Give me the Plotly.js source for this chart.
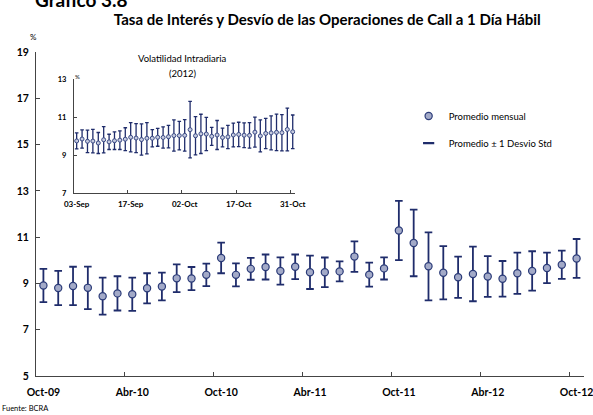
<!DOCTYPE html>
<html>
<head>
<meta charset="utf-8">
<script src="https://cdn.plot.ly/plotly-3.0.1.min.js"></script>
<style>html,body{margin:0;padding:0;background:#fff}</style>
</head>
<body>
<div id="chart" style="width:593px;height:415px"></div>
<script>
// Main chart: monthly average call rate (%) and standard deviation
var months = ["Oct-09","Nov-09","Dic-09","Ene-10","Feb-10","Mar-10","Abr-10","May-10","Jun-10","Jul-10","Ago-10","Sep-10",
  "Oct-10","Nov-10","Dic-10","Ene-11","Feb-11","Mar-11","Abr-11","May-11","Jun-11","Jul-11","Ago-11","Sep-11",
  "Oct-11","Nov-11","Dic-11","Ene-12","Feb-12","Mar-12","Abr-12","May-12","Jun-12","Jul-12","Ago-12","Sep-12","Oct-12"];
var monthlyMean = [8.91,8.80,8.89,8.81,8.45,8.57,8.53,8.79,8.87,9.22,9.21,9.37,
  10.10,9.37,9.63,9.71,9.54,9.72,9.48,9.48,9.52,10.16,9.38,9.65,
  11.29,10.75,9.74,9.46,9.27,9.41,9.30,9.20,9.44,9.54,9.67,9.81,10.08];
var monthlyStd = [0.72,0.74,0.83,0.92,0.80,0.74,0.72,0.65,0.60,0.60,0.50,0.49,
  0.66,0.50,0.47,0.54,0.59,0.53,0.72,0.64,0.43,0.66,0.52,0.48,
  1.28,1.44,1.47,1.15,0.89,1.18,0.88,0.77,0.89,0.85,0.66,0.61,0.84];

// Inset: daily intraday volatility (2012)
var days = ["03-Sep","04-Sep","05-Sep","06-Sep","07-Sep","10-Sep","11-Sep","12-Sep","13-Sep","14-Sep",
  "17-Sep","18-Sep","19-Sep","20-Sep","21-Sep","25-Sep","26-Sep","27-Sep","28-Sep","01-Oct",
  "02-Oct","03-Oct","04-Oct","05-Oct","09-Oct","10-Oct","11-Oct","12-Oct","15-Oct","16-Oct",
  "17-Oct","18-Oct","19-Oct","22-Oct","23-Oct","24-Oct","25-Oct","26-Oct","29-Oct","30-Oct","31-Oct"];
var dailyMean = [9.75,9.85,9.73,9.74,9.64,9.81,9.70,9.76,9.79,9.84,
  9.94,9.90,9.82,9.89,9.89,9.94,9.93,9.97,10.03,10.03,
  10.04,10.34,10.02,10.12,10.11,9.99,10.06,9.93,9.96,10.06,
  10.09,10.05,10.04,10.21,10.01,10.14,10.17,10.20,10.18,10.35,10.23];
var dailyStd = [0.42,0.48,0.59,0.62,0.55,0.69,0.40,0.46,0.49,0.60,
  0.77,0.76,0.82,0.82,0.45,0.47,0.56,0.59,0.82,0.75,
  0.83,1.48,1.00,1.03,0.87,0.47,0.76,0.49,0.61,0.62,
  0.64,0.65,0.67,0.79,0.84,0.79,0.89,0.96,0.95,1.12,0.88];

var mainYTicks = [5,7,9,11,13,15,17,19];
var insetYTicks = [7,9,11,13];

var NAVY = "#1f2c6b";
var FILL = "#a3aac8";
var FONT = "Lato, 'Open Sans', sans-serif";

var traces = [
  {
    x: months, y: monthlyMean, type: "scatter", mode: "markers",
    name: "Promedio mensual", legendgroup: "a",
    marker: {size: 7.2, color: FILL, line: {color: "#2b3b78", width: 1.2}},
    error_y: {type: "data", array: monthlyStd, visible: true, color: NAVY, thickness: 1.8, width: 3.8},
    xaxis: "x", yaxis: "y"
  },
  {
    x: [null], y: [null], type: "scatter", mode: "markers",
    name: "Promedio \u00B1 1 Desvio Std", legendgroup: "b",
    marker: {symbol: "line-ew", size: 8, color: NAVY, line: {color: NAVY, width: 2.2}},
    xaxis: "x", yaxis: "y"
  },
  {
    x: days, y: dailyMean, type: "scatter", mode: "markers", showlegend: false,
    marker: {size: 4, color: "#c5cadf", line: {color: "#3a4a85", width: 1}},
    error_y: {type: "data", array: dailyStd, visible: true, color: NAVY, thickness: 1.3, width: 1.8},
    xaxis: "x2", yaxis: "y2"
  }
];

var axisCommon = {
  showgrid: false, zeroline: false, showline: true, linecolor: "#444", linewidth: 1,
  ticks: "inside", tickcolor: "#444", tickwidth: 1, fixedrange: true
};

var layout = {
  width: 593, height: 415,
  margin: {l: 36, r: 9, t: 52, b: 39},
  paper_bgcolor: "#fff", plot_bgcolor: "rgba(0,0,0,0)",
  font: {family: FONT, color: "#000"},
  title: {
    text: "Tasa de Inter\u00E9s y Desv\u00EDo de las Operaciones de Call a 1 D\u00EDa H\u00E1bil",
    font: {family: FONT, size: 15, weight: 700, color: "#000"},
    x: 0.552, xanchor: "center", y: 0.952, yanchor: "middle", yref: "container", xref: "container"
  },
  xaxis: Object.assign({}, axisCommon, {
    type: "category", range: [-0.5, 36.5], tickmode: "linear", tick0: 0, dtick: 6,
    tickson: "boundaries", ticklen: 4, tickangle: 0,
    tickfont: {family: FONT, size: 10.5, weight: 700}, ticklabelstandoff: 6,
    domain: [0, 1]
  }),
  yaxis: Object.assign({}, axisCommon, {
    range: [5, 19], tickvals: mainYTicks, ticklen: 4,
    tickfont: {family: FONT, size: 10.5, weight: 700}, ticklabelstandoff: 4,
    domain: [0, 1]
  }),
  xaxis2: Object.assign({}, axisCommon, {
    type: "category", range: [-0.5, 40.5], tickmode: "linear", tick0: 0, dtick: 10,
    tickson: "boundaries", ticklen: 3, tickangle: 0,
    tickfont: {family: FONT, size: 8, weight: 700}, ticklabelstandoff: 3,
    domain: [0.0693, 0.4734], anchor: "y2"
  }),
  yaxis2: Object.assign({}, axisCommon, {
    range: [7, 13], tickvals: insetYTicks, ticklen: 3,
    tickfont: {family: FONT, size: 7.5, weight: 700}, ticklabelstandoff: 5,
    domain: [0.5639, 0.9167], anchor: "x2"
  }),
  showlegend: true,
  legend: {
    x: 0.68, y: 0.847, xanchor: "left", yanchor: "top",
    bgcolor: "rgba(0,0,0,0)", tracegroupgap: 8,
    font: {family: FONT, size: 9.5, color: "#000"}
  },
  annotations: [
    {text: "Gr\u00E1fico 3.8", xref: "paper", yref: "paper", x: -0.005, y: 1.163, xanchor: "left", yanchor: "middle",
     showarrow: false, font: {family: FONT, size: 19, weight: 700, color: "#000"}},
    {text: "%", xref: "paper", yref: "paper", x: -0.005, y: 1.045, xanchor: "center", yanchor: "middle",
     showarrow: false, font: {family: FONT, size: 8, color: "#000"}},
    {text: "%", xref: "paper", yref: "paper", x: 0.075, y: 0.925, xanchor: "center", yanchor: "middle",
     showarrow: false, font: {family: FONT, size: 6, color: "#000"}},
    {text: "Volatilidad Intradiaria", xref: "paper", yref: "paper", x: 0.268, y: 0.981, xanchor: "center", yanchor: "middle",
     showarrow: false, font: {family: FONT, size: 9.5, color: "#000"}},
    {text: "(2012)", xref: "paper", yref: "paper", x: 0.268, y: 0.935, xanchor: "center", yanchor: "middle",
     showarrow: false, font: {family: FONT, size: 9.5, color: "#000"}},
    {text: "Fuente: BCRA", xref: "paper", yref: "paper", x: -0.066, y: -0.099, xanchor: "left", yanchor: "middle",
     showarrow: false, font: {family: FONT, size: 7.5, color: "#000"}}
  ]
};

Plotly.newPlot("chart", traces, layout, {displayModeBar: false, staticPlot: true});
</script>
</body>
</html>
